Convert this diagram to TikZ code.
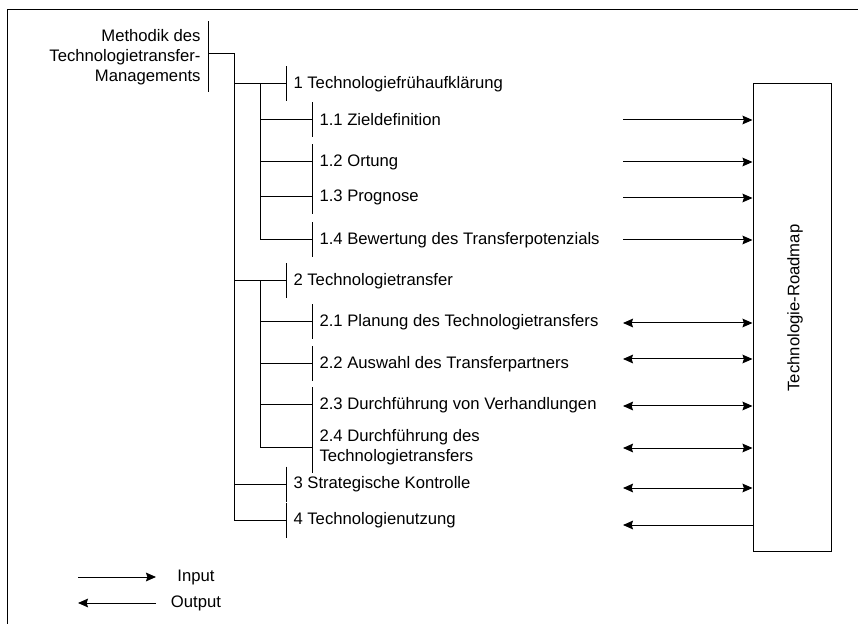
\documentclass[tikz,border=0pt]{standalone}
\usepackage{fontspec}
\setmainfont{Liberation Sans}
\usetikzlibrary{positioning}
\usetikzlibrary{arrows.meta}

\begin{document}
\begin{tikzpicture}[
                x=0.75pt, y=-0.75pt, line width=0.75pt,
                every node/.style = {font=\fontsize{12.5}{14.8}\selectfont},
                % Wurzel mit Strich rechts
                root/.style = {anchor=east, align=right, inner sep=0pt, inner xsep=5.25pt,
                    minimum height=52.5pt,
                    append after command={(\tikzlastnode.north east) edge (\tikzlastnode.south east)}},
                % Arbeitsschritt mit Strich links
                task/.style = {anchor=west, align=left, inner sep=0pt, inner xsep=5.25pt,
                    minimum height=#1,
                    append after command={(\tikzlastnode.north west) edge (\tikzlastnode.south west)}},
                task/.default = 25.5pt,
                arrow/.style = {->, >={Stealth[length=7.5pt, width=6.5pt, inset=1pt]}},
                dual arrow/.style = {<->, >={Stealth[length=7.5pt, width=6.5pt, inset=1pt]}}
                ]

                \useasboundingbox (0,0) rectangle (858,624);

                % --- Rahmen ---
                \draw (7,624) -- (7,10) -- (858,10);

                % --- Baum ---
                \node[root] (root) at (208,57) {Methodik des\\Technologietransfer-\\Managements};

                \node[task] (n1) at (286,84) {1 Technologiefrühaufklärung};
                \node[task] (n11) at (312,120) {1.1 Zieldefinition};
                \node[task] (n12) at (312,162) {1.2 Ortung};
                \node[task] (n13) at (312,197) {1.3 Prognose};
                \node[task] (n14) at (312,240) {1.4 Bewertung des Transferpotenzials};

                \node[task] (n2) at (286,281) {2 Technologietransfer};
                \node[task] (n21) at (312,322) {2.1 Planung des Technologietransfers};
                \node[task] (n22) at (312,364) {2.2 Auswahl des Transferpartners};
                \node[task] (n23) at (312,405) {2.3 Durchführung von Verhandlungen};
                \node[task=38pt] (n24) at (312,447) {2.4 Durchführung des\\Technologietransfers};

                \node[task] (n3) at (286,484) {3 Strategische Kontrolle};
                \node[task] (n4) at (286,520) {4 Technologienutzung};

                % --- Verbindungen ---
                \coordinate (trunk) at (234,54);
                \coordinate (sub1) at (260,0);
                \coordinate (sub2) at (260,0);

                \draw (trunk -| root.east) -- (trunk) -- (trunk |- n4.west);
                \foreach \n in {n1,n2,n3,n4}
                    \draw (trunk |- \n.west) -- (\n.west);

                \draw (sub1 |- n1.west) -- (sub1 |- n14.west);
                \foreach \n in {n11,n12,n13,n14}
                    \draw (sub1 |- \n.west) -- (\n.west);

                \draw (sub2 |- n2.west) -- (sub2 |- n24.west);
                \foreach \n in {n21,n22,n23,n24}
                    \draw (sub2 |- \n.west) -- (\n.west);

                % --- Roadmap ---
                \node[draw, inner sep=0pt, minimum width=58.5pt, minimum height=350.25pt] (roadmap) at (792,317.5) {};
                \node[rotate=90] (roadmap label) at (795,308) {Technologie-Roadmap};

                % --- Pfeile ---
                \foreach \y [count=\i] in {120,162,198,240} {
                    \coordinate (in\i) at (623,\y);
                    \draw[arrow] (in\i) -- (in\i -| roadmap.west);
                }
                \foreach \y [count=\i] in {323,359,406,448,488} {
                    \coordinate (io\i) at (623,\y);
                    \draw[dual arrow] (io\i) -- (io\i -| roadmap.west);
                }
                \coordinate (out1) at (623,525);
                \draw[arrow] (out1 -| roadmap.west) -- (out1);

                % --- Legende ---
                \coordinate (inA) at (78,577);
                \coordinate (inB) at (156,577);
                \coordinate (outA) at (156,603);
                \coordinate (outB) at (78,603);
                \draw[arrow] (inA) -- (inB);
                \draw[arrow] (outA) -- (outB);
                \node (input) at (196,577) {Input};
                \node (output) at (196,603) {Output};

            \end{tikzpicture}
\end{document}
